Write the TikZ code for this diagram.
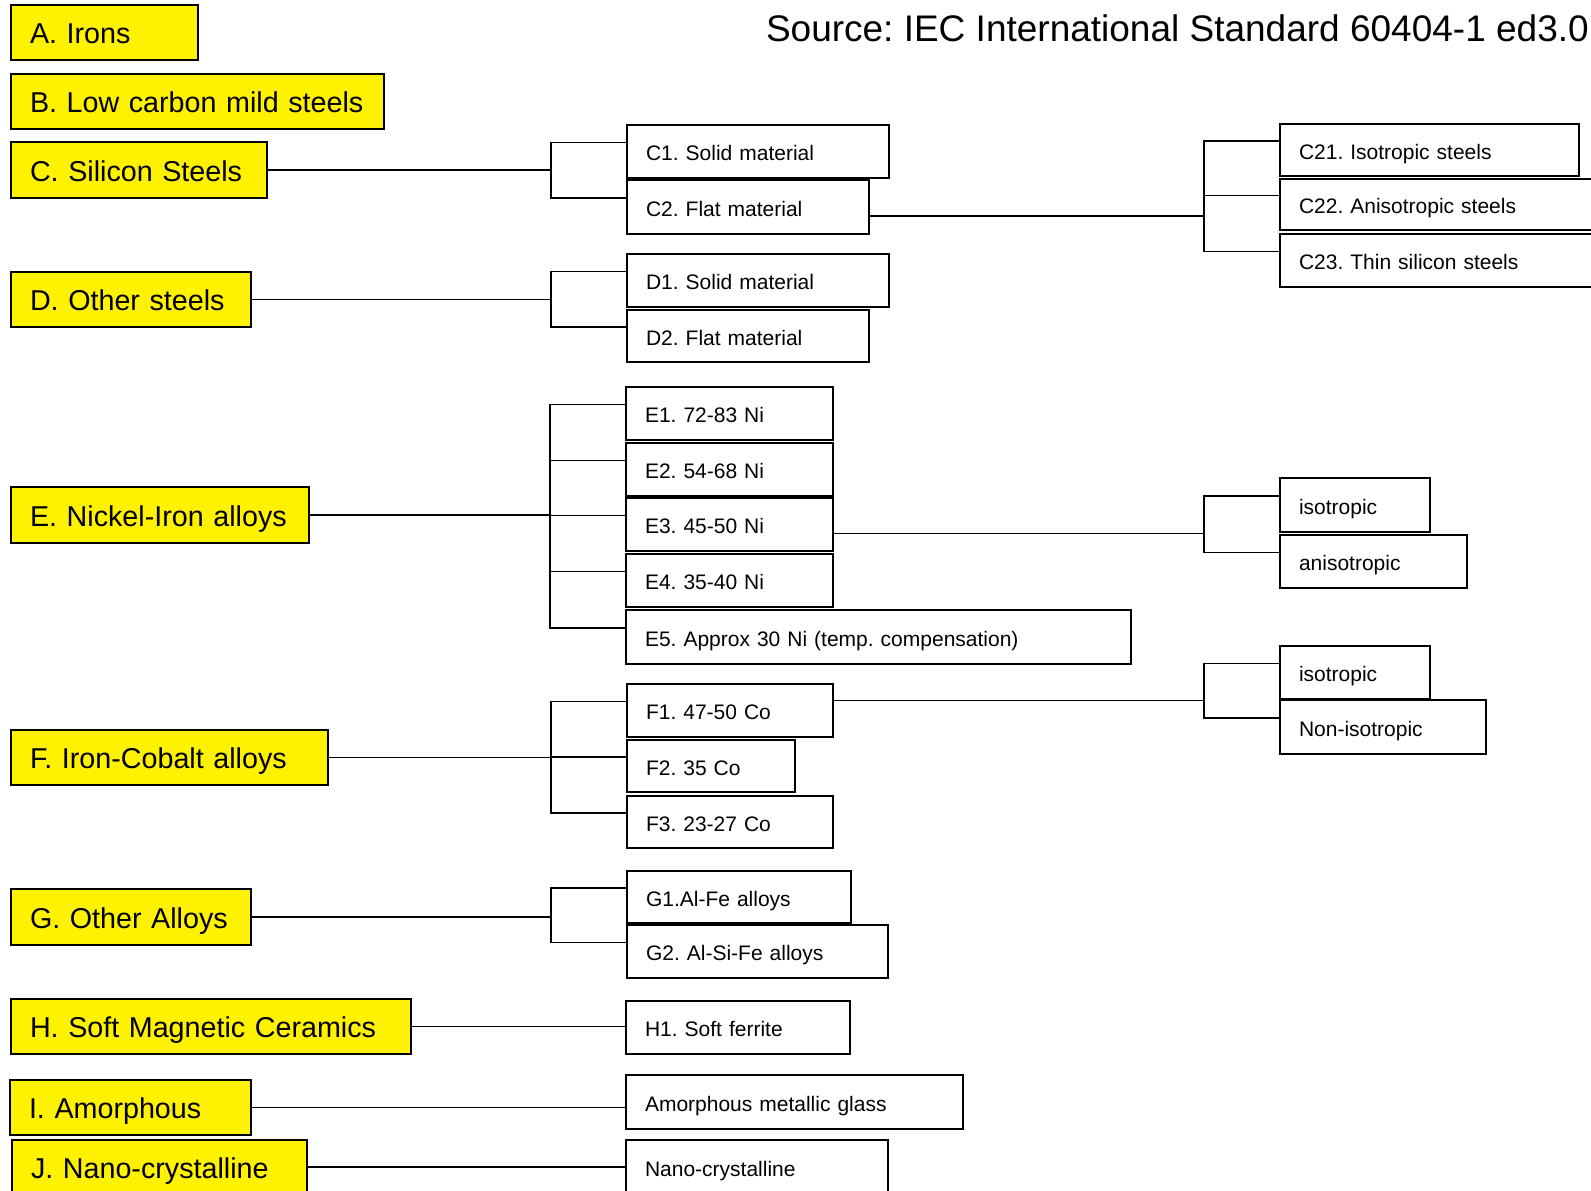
\documentclass[tikz,border=0pt]{standalone}
\usepackage{fontspec}
\setmainfont{Liberation Sans}
\frenchspacing
\tikzset{
    cat/.style={draw=black, fill=yellow, line width=2pt, anchor=north west,
        inner xsep=19pt, inner ysep=0pt, align=left, minimum height=55pt,
        font=\fontsize{28.7}{34}\selectfont, text height=27pt, text depth=5pt},
    sub/.style={draw=black, fill=white, line width=2pt, anchor=north west,
        inner xsep=19pt, inner ysep=0pt, align=left, minimum height=53pt,
        font=\fontsize{21}{26}\selectfont, text height=20pt, text depth=2pt},
    srctitle/.style={anchor=base east, inner sep=0pt, font=\fontsize{37}{44}\selectfont},
    link/.style={line width=1.8pt}
}
\begin{document}
\begin{tikzpicture}[x=1pt,y=-1pt]
    \clip (0,0) rectangle (1591,1191);
    % Title
    \node[srctitle] (src) at (1589,41) {Source: IEC International Standard 60404-1 ed3.0};
    % Main classes
    \node[cat, text width=149pt] (irons) at (10,4) {A. Irons};
    \node[cat, text width=335pt] (lowc) at (10,73) {\mbox{B. Low carbon mild steels}};
    \node[cat, text width=218pt, minimum height=56pt] (silicon) at (10,141) {\mbox{C. Silicon Steels}};
    \node[cat, text width=202pt] (other) at (10,271) {\mbox{D. Other steels}};
    \node[cat, text width=260pt, minimum height=56pt] (nife) at (10,486) {\mbox{E. Nickel-Iron alloys}};
    \node[cat, text width=279pt] (feco) at (10,729) {\mbox{F. Iron-Cobalt alloys}};
    \node[cat, text width=202pt, minimum height=56pt] (alloys) at (10,888) {\mbox{G. Other Alloys}};
    \node[cat, text width=362pt] (ceram) at (10,998) {\mbox{H. Soft Magnetic Ceramics}};
    \node[cat, text width=203pt] (amorph) at (9,1079) {I. Amorphous};
    \node[cat, text width=257pt, minimum height=54pt] (nano) at (11,1139) {\mbox{J. Nano-crystalline}};
    % Bracket spines
    \coordinate (lx) at (551,0);
    \coordinate (rx) at (1204,0);
    % Silicon steels
    \node[sub, text width=224pt] (c1) at (626,124) {C1. Solid material};
    \node[sub, text width=204pt, minimum height=54pt] (c2) at (626,179) {C2. Flat material};
    \draw[link] (silicon.east) -- (silicon.east -| lx);
    \draw[link] ([yshift=9pt]c1.west) -- ++(-75,0) |- ([yshift=9pt]c2.west);
    \node[sub, text width=261pt, minimum height=52pt] (c21) at (1279,123) {C21. Isotropic steels};
    \node[sub, text width=302pt, minimum height=51pt] (c22) at (1279,178) {C22. Anisotropic steels};
    \node[sub, text width=302pt] (c23) at (1279,233) {C23. Thin silicon steels};
    \coordinate (c2out) at ([yshift=-9pt]c2.east);
    \draw[link] (c2out) -- (c2out -| rx);
    \draw[link] ([yshift=9pt]c21.west) -- ++(-75,0) |- ([yshift=9pt]c23.west);
    \draw[link] ([yshift=9pt]c22.west) -- ++(-75,0);
    % Other steels
    \node[sub, text width=224pt] (d1) at (626,253) {D1. Solid material};
    \node[sub, text width=204pt, minimum height=52pt] (d2) at (626,309) {D2. Flat material};
    \draw[link] (other.east) -- (other.east -| lx);
    \draw[link] ([yshift=9pt]d1.west) -- ++(-75,0) |- ([yshift=9pt]d2.west);
    % Nickel-iron
    \node[sub, text width=169pt] (e1) at (625,386) {E1. 72-83 Ni};
    \node[sub, text width=169pt] (e2) at (625,442) {E2. 54-68 Ni};
    \node[sub, text width=169pt] (e3) at (625,497) {E3. 45-50 Ni};
    \node[sub, text width=169pt] (e4) at (625,553) {E4. 35-40 Ni};
    \node[sub, text width=467pt, minimum height=54pt] (e5) at (625,609) {E5. Approx 30 Ni (temp. compensation)};
    \draw[link] (nife.east) -- (nife.east -| lx);
    \draw[link] ([yshift=9pt]e1.west) -- ++(-75,0) |- ([yshift=9pt]e5.west);
    \foreach \e in {e2,e3,e4}
        \draw[link] ([yshift=9pt]\e.west) -- ++(-75,0);
    \node[sub, text width=112pt, minimum height=54pt] (eiso) at (1279,477) {isotropic};
    \node[sub, text width=149pt] (eaniso) at (1279,534) {anisotropic};
    \coordinate (e3out) at ([yshift=-9pt]e3.east);
    \draw[link] (e3out) -- (e3out -| rx);
    \draw[link] ([yshift=9pt]eiso.west) -- ++(-75,0) |- ([yshift=9pt]eaniso.west);
    % Iron-cobalt
    \node[sub, text width=168pt] (f1) at (626,683) {F1. 47-50 Co};
    \node[sub, text width=130pt, minimum height=52pt] (f2) at (626,739) {F2. 35 Co};
    \node[sub, text width=168pt, minimum height=52pt] (f3) at (626,795) {F3. 23-27 Co};
    \draw[link] (feco.east) -- (feco.east -| lx);
    \draw[link] ([yshift=9pt]f1.west) -- ++(-75,0) |- ([yshift=9pt]f3.west);
    \draw[link] ([yshift=9pt]f2.west) -- ++(-75,0);
    \node[sub, text width=112pt] (fiso) at (1279,645) {isotropic};
    \node[sub, text width=168pt, minimum height=54pt] (fnoniso) at (1279,699) {Non-isotropic};
    \coordinate (f1out) at ([yshift=10pt]f1.east);
    \draw[link] (f1out) -- (f1out -| rx);
    \draw[link] ([yshift=9pt]fiso.west) -- ++(-75,0) |- ([yshift=9pt]fnoniso.west);
    % Other alloys
    \node[sub, text width=186pt, minimum height=52pt] (g1) at (626,870) {G1.Al-Fe alloys};
    \node[sub, text width=223pt] (g2) at (626,924) {G2. Al-Si-Fe alloys};
    \draw[link] (alloys.east) -- (alloys.east -| lx);
    \draw[link] ([yshift=9pt]g1.west) -- ++(-75,0) |- ([yshift=9pt]g2.west);
    % Ceramics, amorphous, nano
    \node[sub, text width=186pt] (h1) at (625,1000) {H1. Soft ferrite};
    \node[sub, text width=299pt, minimum height=54pt] (amg) at (625,1074) {Amorphous metallic glass};
    \node[sub, text width=224pt, minimum height=54pt] (nc) at (625,1139) {Nano-crystalline};
    \draw[link] (ceram.east) -- (ceram.east -| h1.west);
    \draw[link] (amorph.east) -- (amorph.east -| amg.west);
    \draw[link] (nano.east) -- (nano.east -| nc.west);
\end{tikzpicture}
\end{document}
